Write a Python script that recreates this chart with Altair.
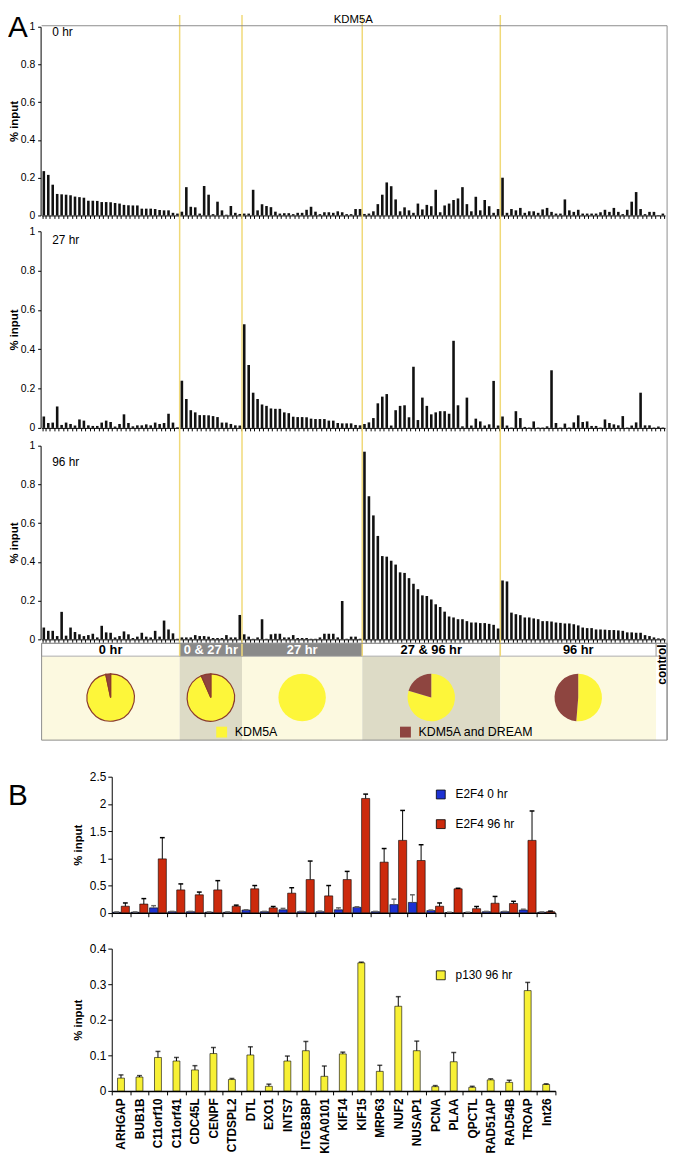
import math
import altair as alt
import pandas as pd

W, H = 672, 1155
FONT = "Liberation Sans"
NARROW = "Liberation Sans Narrow, Liberation Sans"

# ---------------- data: panel A (KDM5A ChIP, % input) ----------------
group_names = ["0 hr", "0 & 27 hr", "27 hr", "27 & 96 hr", "96 hr", "control"]
group_sizes = [31, 14, 27, 31, 35, 2]

kdm5a_0hr = (
    [0.235, 0.215, 0.163, 0.114, 0.112, 0.11, 0.107, 0.1, 0.097, 0.094, 0.078, 0.078, 0.077, 0.071, 0.071, 0.07,
     0.066, 0.063, 0.056, 0.054, 0.053, 0.053, 0.036, 0.036, 0.036, 0.034, 0.029, 0.027, 0.027, 0.014, 0.01]
    + [0.02, 0.15, 0.046, 0.043, 0.01, 0.156, 0.11, 0.007, 0.073, 0.027, 0.004, 0.05, 0.014, 0.008]
    + [0.01, 0.01, 0.136, 0.027, 0.06, 0.05, 0.044, 0.02, 0.01, 0.012, 0.012, 0.007, 0.014, 0.014, 0.03, 0.046,
       0.02, 0.007, 0.017, 0.017, 0.014, 0.022, 0.017, 0.007, 0.007, 0.034, 0.034]
    + [0.008, 0.01, 0.022, 0.06, 0.11, 0.175, 0.155, 0.085, 0.022, 0.043, 0.027, 0.014, 0.063, 0.032, 0.056, 0.049,
       0.136, 0.017, 0.053, 0.063, 0.082, 0.09, 0.15, 0.06, 0.022, 0.099, 0.027, 0.082, 0.049, 0.014, 0.034]
    + [0.2, 0.014, 0.034, 0.027, 0.04, 0.014, 0.022, 0.022, 0.014, 0.032, 0.04, 0.019, 0.01, 0.01, 0.085, 0.027,
       0.019, 0.03, 0.01, 0.01, 0.01, 0.01, 0.017, 0.03, 0.019, 0.04, 0.019, 0.007, 0.03, 0.073, 0.124, 0.034,
       0.007, 0.019, 0.019, 0.002, 0.01]
)
kdm5a_27hr = (
    [0.058, 0.025, 0.027, 0.109, 0.015, 0.027, 0.02, 0.012, 0.043, 0.037, 0.013, 0.01, 0.01, 0.027, 0.037, 0.03,
     0.007, 0.02, 0.069, 0.025, 0.008, 0.013, 0.013, 0.018, 0.013, 0.027, 0.02, 0.025, 0.072, 0.027, 0.003]
    + [0.24, 0.147, 0.09, 0.079, 0.065, 0.065, 0.064, 0.06, 0.055, 0.027, 0.027, 0.02, 0.013, 0.012]
    + [0.527, 0.32, 0.179, 0.147, 0.119, 0.112, 0.099, 0.097, 0.097, 0.079, 0.075, 0.057, 0.055, 0.055, 0.054,
       0.047, 0.045, 0.045, 0.045, 0.037, 0.037, 0.025, 0.023, 0.023, 0.023, 0.015, 0.013]
    + [0.02, 0.028, 0.05, 0.125, 0.159, 0.172, 0.012, 0.09, 0.112, 0.115, 0.054, 0.311, 0.04, 0.154, 0.112, 0.069,
       0.079, 0.085, 0.085, 0.072, 0.443, 0.115, 0.008, 0.154, 0.012, 0.047, 0.033, 0.012, 0.018, 0.239, 0.012]
    + [0.058, 0.012, 0.002, 0.085, 0.05, 0.005, 0.002, 0.033, 0.002, 0.002, 0.008, 0.293, 0.025, 0.002, 0.022,
       0.002, 0.028, 0.064, 0.03, 0.033, 0.01, 0.01, 0.002, 0.043, 0.025, 0.018, 0.013, 0.06, 0.002, 0.012, 0.028,
       0.179, 0.013, 0.013, 0.002, 0.007, 0.002]
)
kdm5a_96hr = (
    [0.061, 0.044, 0.044, 0.017, 0.142, 0.019, 0.061, 0.038, 0.026, 0.017, 0.022, 0.029, 0.01, 0.07, 0.036, 0.034,
     0.01, 0.017, 0.041, 0.026, 0.007, 0.014, 0.034, 0.014, 0.01, 0.044, 0.014, 0.097, 0.051, 0.031, 0.003]
    + [0.01, 0.01, 0.01, 0.022, 0.017, 0.017, 0.014, 0.007, 0.007, 0.007, 0.022, 0.01, 0.01, 0.126]
    + [0.026, 0.014, 0.003, 0.01, 0.104, 0.003, 0.026, 0.029, 0.029, 0.01, 0.01, 0.022, 0.007, 0.007, 0.007, 0.003,
       0.003, 0.01, 0.029, 0.029, 0.029, 0.01, 0.198, 0.003, 0.014, 0.014, 0.003]
    + [0.969, 0.739, 0.64, 0.534, 0.43, 0.427, 0.406, 0.386, 0.346, 0.343, 0.316, 0.287, 0.259, 0.227, 0.224, 0.206,
       0.181, 0.167, 0.143, 0.118, 0.113, 0.104, 0.104, 0.094, 0.087, 0.087, 0.084, 0.084, 0.08, 0.075, 0.056]
    + [0.304, 0.299, 0.138, 0.13, 0.125, 0.113, 0.113, 0.108, 0.104, 0.094, 0.094, 0.092, 0.087, 0.085, 0.082,
       0.082, 0.078, 0.072, 0.061, 0.058, 0.058, 0.051, 0.051, 0.05, 0.048, 0.048, 0.046, 0.044, 0.036, 0.036,
       0.034, 0.034, 0.022, 0.017, 0.01, 0.005, 0.005]
)

pie_groups = ["0 hr", "0 & 27 hr", "27 hr", "27 & 96 hr", "96 hr"]
pie_dream_fraction = [0.033, 0.066, 0.0, 0.204, 0.487]
pie_outlined = [True, True, False, False, False]
pie_types = ["KDM5A", "KDM5A and DREAM"]

# ---------------- data: panel B ----------------
genes = ["ARHGAP", "BUB1B", "C11orf10", "C11orf41", "CDC45L", "CENPF", "CTDSPL2", "DTL", "EXO1", "INTS7",
         "ITGB3BP", "KIAA0101", "KIF14", "KIF15", "MRP63", "NUF2", "NUSAP1", "PCNA", "PLAA", "QPCTL",
         "RAD51AP", "RAD54B", "TROAP", "Int26"]
e2f4_0hr = [0.01, 0.01, 0.09, 0.02, 0.02, 0.01, 0.01, 0.05, 0.02, 0.055, 0.02, 0.02, 0.055, 0.1, 0.02, 0.15,
            0.19, 0.04, 0.005, 0.005, 0.02, 0.02, 0.05, 0.01]
e2f4_0hr_err = [0.015, 0.015, 0.13, 0.025, 0.025, 0.015, 0.015, 0.055, 0.025, 0.08, 0.025, 0.03, 0.09, 0.11,
                0.025, 0.25, 0.33, 0.05, 0.01, 0.01, 0.025, 0.025, 0.065, 0.015]
e2f4_96hr = [0.12, 0.16, 0.99, 0.42, 0.33, 0.42, 0.12, 0.44, 0.09, 0.36, 0.61, 0.31, 0.61, 2.1, 0.93, 1.33,
             0.96, 0.12, 0.44, 0.075, 0.175, 0.17, 1.33, 0.02]
e2f4_96hr_err = [0.18, 0.26, 1.38, 0.53, 0.38, 0.59, 0.14, 0.5, 0.115, 0.46, 0.95, 0.5, 0.76, 2.18, 1.18, 1.88,
                 1.25, 0.18, 0.45, 0.115, 0.3, 0.21, 1.87, 0.03]
p130_96hr = [0.036, 0.039, 0.094, 0.084, 0.059, 0.105, 0.032, 0.101, 0.013, 0.084, 0.113, 0.041, 0.104, 0.36,
             0.055, 0.238, 0.113, 0.012, 0.082, 0.01, 0.031, 0.024, 0.282, 0.018]
p130_96hr_err = [0.045, 0.043, 0.111, 0.094, 0.071, 0.122, 0.035, 0.124, 0.019, 0.098, 0.139, 0.07, 0.109,
                 0.362, 0.072, 0.265, 0.14, 0.015, 0.108, 0.013, 0.034, 0.03, 0.305, 0.02]

# ---------------- layout / style ----------------
N = sum(group_sizes)
X0, X1 = 34, 665
FRAME_R = N + 0.45
A_AXIS_X = 33
panels = [("0 hr", kdm5a_0hr, 203, 12, 0.95), ("27 hr", kdm5a_27hr, 418, 219, 0.935),
          ("96 hr", kdm5a_96hr, 632, 436, 0.893)]
BOX_BOTTOM, STRIP_TOP, STRIP_BOTTOM = 734, 636, 649
STRIP_FRAC = (BOX_BOTTOM - STRIP_BOTTOM) / (BOX_BOTTOM - STRIP_TOP)
B_X0, B_X1 = 105, 554
BT_Y0, BT_Y1 = 908.7, 771
BB_Y0, BB_Y1 = 1089, 945

bg_fill = {"0 hr": "#fcf9e0", "0 & 27 hr": "#dddbc6", "27 hr": "#fcf9e0", "27 & 96 hr": "#dddbc6",
           "96 hr": "#fcf9e0", "control": "#ffffff"}
strip_fill = {"0 hr": "#ffffff", "0 & 27 hr": "#8a8a8a", "27 hr": "#8a8a8a", "27 & 96 hr": "#ffffff",
              "96 hr": "#ffffff", "control": "#ffffff"}
strip_text = {"0 hr": "#000000", "0 & 27 hr": "#ffffff", "27 hr": "#ffffff", "27 & 96 hr": "#000000",
              "96 hr": "#000000", "control": "#000000"}
YELLOW_LINE = "#f0d978"
PIE_COLORS = ["#fdf63a", "#8e4540"]


def pos():
    return alt.Scale(domain=[0, N], range=[X0, X1], nice=False, zero=False)


units = []

# ---------------- strip and pie box ----------------
starts = [sum(group_sizes[:i]) for i in range(len(group_sizes))]
ends = starts[1:] + [FRAME_R]
strip_df = pd.DataFrame({
    "group": group_names, "start": starts, "end": ends,
    "mid": [(a + b) / 2 for a, b in zip(starts, ends)],
    "bg": [bg_fill[g] for g in group_names], "sf": [strip_fill[g] for g in group_names],
    "tc": [strip_text[g] for g in group_names],
    "lo": [0.0] * len(group_names), "sb": [STRIP_FRAC] * len(group_names), "hi": [1.0] * len(group_names),
    "ty": [(STRIP_FRAC + 1) / 2] * len(group_names),
})
box_y = alt.Scale(domain=[0, 1], range=[BOX_BOTTOM, STRIP_TOP], nice=False, zero=False)

units.append(alt.Chart(strip_df).mark_rect(strokeWidth=0).encode(
    x=alt.X("start:Q", scale=pos(), axis=None), x2="end:Q",
    y=alt.Y("lo:Q", scale=box_y, axis=None), y2="sb:Q",
    color=alt.Color("bg:N", scale=None)))
units.append(alt.Chart(strip_df).mark_rect(stroke="#9a9a9a", strokeWidth=0.8).encode(
    x=alt.X("start:Q", scale=pos(), axis=None), x2="end:Q",
    y=alt.Y("sb:Q", scale=box_y, axis=None), y2="hi:Q",
    color=alt.Color("sf:N", scale=None)))

# yellow separators
line_df = pd.DataFrame({"b": starts[1:5], "y": [0.0] * 4, "y2": [1.0] * 4})
units.append(alt.Chart(line_df).mark_rule(color=YELLOW_LINE, strokeWidth=1.5).encode(
    x=alt.X("b:Q", scale=pos(), axis=None),
    y=alt.Y("y:Q", scale=alt.Scale(domain=[0, 1], range=[STRIP_BOTTOM, 0], nice=False, zero=False), axis=None),
    y2="y2:Q"))

units.append(alt.Chart(strip_df[strip_df.group != "control"]).mark_text(
    font=NARROW, fontSize=13, fontWeight="bold", baseline="middle", align="center").encode(
    x=alt.X("mid:Q", scale=pos(), axis=None), y=alt.Y("ty:Q", scale=box_y, axis=None),
    text="group:N", color=alt.Color("tc:N", scale=None)))
units.append(alt.Chart(strip_df[strip_df.group == "control"].assign(cy=0.78)).mark_text(
    font=FONT, fontSize=12, fontWeight="bold", angle=270, baseline="middle", align="center", color="black").encode(
    x=alt.X("mid:Q", scale=pos(), axis=None), y=alt.Y("cy:Q", scale=box_y, axis=None), text="group:N"))

# pies
pie_rows = []
for g, f, outl in zip(pie_groups, pie_dream_fraction, pie_outlined):
    mid = float(strip_df.loc[strip_df.group == g, "mid"].iloc[0])
    if f < 1:
        pie_rows.append({"group": g, "type": pie_types[0], "t0": 0.0, "t1": 1 - f, "cx": mid, "cy": 0.44,
                         "outline": outl})
    if f > 0:
        pie_rows.append({"group": g, "type": pie_types[1], "t0": 1 - f, "t1": 1.0, "cx": mid, "cy": 0.44,
                         "outline": outl})
units.append(alt.Chart(pd.DataFrame(pie_rows)).mark_arc(outerRadius=24, stroke="#8b3b2e").encode(
    x=alt.X("cx:Q", scale=pos(), axis=None), y=alt.Y("cy:Q", scale=box_y, axis=None),
    theta=alt.Theta("t0:Q", scale=alt.Scale(domain=[0, 1], range=[0, 2 * math.pi]), stack=False),
    theta2="t1:Q",
    color=alt.Color("type:N", scale=alt.Scale(domain=pie_types, range=PIE_COLORS),
                    legend=alt.Legend(title=None, orient="none", legendX=210, legendY=719.5,
                                      direction="horizontal", columns=2, columnPadding=123,
                                      symbolType="square", symbolSize=121, symbolStrokeWidth=0,
                                      labelFontSize=12.5, labelOffset=7, padding=0, labelFont=FONT)),
    strokeWidth=alt.condition("datum.outline", alt.value(1.2), alt.value(0))))

# ---------------- bar panels ----------------
bar_idx = list(range(N))
bar_group = [g for g, s in zip(group_names, group_sizes) for _ in range(s)]
for name, vals, y0, y1, ly in panels:
    assert len(vals) == N, (name, len(vals))
    ysc = alt.Scale(domain=[0, 1], range=[y0, y1], nice=False, zero=False)
    df = pd.DataFrame({"bar": bar_idx, "value": vals, "group": bar_group})
    units.append(alt.Chart(df).mark_bar(color="#111111").encode(
        x=alt.X("bar:O", scale=alt.Scale(domain=bar_idx, range=[X0, X1], paddingInner=0.42, paddingOuter=0.21),
                axis=alt.Axis(orient="bottom", offset=y0 - H, labels=False, title=None, tickBand="extent",
                              tickSize=3, tickColor="black", domainColor="black", domainWidth=1, grid=False)),
        y=alt.Y("value:Q", scale=ysc,
                axis=alt.Axis(orient="left", offset=-A_AXIS_X, values=[0, 0.2, 0.4, 0.6, 0.8, 1], format="~g",
                              title="% input", titleFontWeight="bold", titleFontSize=11.5, titlePadding=1,
                              titleColor="black", labelFontSize=10.5, labelPadding=3, labelColor="black",
                              tickSize=3, tickColor="black", domainColor="black", grid=False))))
    units.append(alt.Chart(pd.DataFrame({"t": [name], "x": [2.4], "y": [ly]})).mark_text(
        align="left", baseline="alphabetic", fontSize=12, font=FONT, color="black").encode(
        x=alt.X("x:Q", scale=pos(), axis=None), y=alt.Y("y:Q", scale=ysc, axis=None), text="t:N"))

# frame of panel A
frame_y = alt.Scale(domain=[0, 1], range=[BOX_BOTTOM, 11], nice=False, zero=False)
frame_df = pd.DataFrame({"x": [0, FRAME_R], "x2": [FRAME_R, FRAME_R], "y": [1, 0], "y2": [1, 1]})
units.append(alt.Chart(frame_df).mark_rule(color="#8c8c8c", strokeWidth=1).encode(
    x=alt.X("x:Q", scale=pos(), axis=None), x2="x2:Q", y=alt.Y("y:Q", scale=frame_y, axis=None), y2="y2:Q"))
units.append(alt.Chart(pd.DataFrame({"x": [0], "x2": [FRAME_R], "y": [0], "y2": [1]})).mark_rect(
    fillOpacity=0, stroke="#8c8c8c", strokeWidth=1).encode(
    x=alt.X("x:Q", scale=pos(), axis=None), x2="x2:Q", y=alt.Y("y:Q", scale=box_y, axis=None), y2="y2:Q"))
units.append(alt.Chart(pd.DataFrame({"t": ["KDM5A"], "x": [N / 2], "y": [1]})).mark_text(
    baseline="bottom", dy=-1, fontSize=11.5, font=FONT, color="black").encode(
    x=alt.X("x:Q", scale=pos(), axis=None), y=alt.Y("y:Q", scale=frame_y, axis=None), text="t:N"))

# panel letters
units.append(alt.Chart(pd.DataFrame({"t": ["A"]})).mark_text(
    align="left", baseline="alphabetic", fontSize=30, font=FONT, color="black").encode(
    x=alt.value(0), y=alt.value(22.5), text="t:N"))
units.append(alt.Chart(pd.DataFrame({"t": ["B"]})).mark_text(
    align="left", baseline="alphabetic", fontSize=30, font=FONT, color="black").encode(
    x=alt.value(0), y=alt.value(800), text="t:N"))

# ---------------- panel B top: E2F4 ----------------
bt_rows = []
for i, g in enumerate(genes):
    for series, vals, errs, shift in [("E2F4 0 hr", e2f4_0hr, e2f4_0hr_err, -0.235),
                                      ("E2F4 96 hr", e2f4_96hr, e2f4_96hr_err, 0.235)]:
        xc = i + 0.5 + shift
        bt_rows.append({"gene": g, "series": series, "value": vals[i], "err": errs[i], "base": 0.0,
                        "xc": xc, "left": xc - 0.22, "right": xc + 0.22, "capl": xc - 0.13, "capr": xc + 0.13})
bt_df = pd.DataFrame(bt_rows)


def bt_x():
    return alt.Scale(domain=[0, len(genes)], range=[B_X0, B_X1], nice=False, zero=False)


def bt_y():
    return alt.Scale(domain=[0, 2.5], range=[BT_Y0, BT_Y1], nice=False, zero=False)


def b_yaxis(values):
    return alt.Axis(orient="left", offset=-B_X0, values=values, format="~g", title="% input",
                    titleFontWeight="bold", titleFontSize=11.5, titlePadding=6, titleColor="black",
                    labelFontSize=12, labelPadding=2, labelColor="black", tickSize=4, tickColor="black",
                    domainColor="black", grid=False)


def b_legend(y):
    return alt.Legend(title=None, orient="none", legendX=432, legendY=y, direction="vertical",
                      symbolType="square", symbolSize=81, symbolStrokeColor="black", symbolStrokeWidth=0.8,
                      labelFontSize=12, labelOffset=9, rowPadding=16, padding=0, labelFont=FONT)


units.append(alt.Chart(bt_df).mark_bar(stroke="black", strokeWidth=0.6).encode(
    x=alt.X("left:Q", scale=bt_x(),
            axis=alt.Axis(orient="bottom", offset=BT_Y0 - H, values=list(range(len(genes) + 1)), labels=False,
                          title=None, tickSize=4, tickColor="black", domainColor="black", domainWidth=1.5,
                          grid=False)),
    x2="right:Q",
    y=alt.Y("value:Q", scale=bt_y(), axis=b_yaxis([0, 0.5, 1, 1.5, 2, 2.5])), y2="base:Q",
    color=alt.Color("series:N", scale=alt.Scale(domain=["E2F4 0 hr", "E2F4 96 hr"], range=["#1d31d2", "#cc2a0d"]),
                    legend=b_legend(783))))
err_color = alt.condition("datum.series == 'E2F4 0 hr'", alt.value("#666666"), alt.value("black"))
units.append(alt.Chart(bt_df).mark_rule(strokeWidth=1).encode(
    x=alt.X("xc:Q", scale=bt_x(), axis=None), y=alt.Y("value:Q", scale=bt_y(), axis=None), y2="err:Q",
    color=err_color))
units.append(alt.Chart(bt_df).mark_rule(strokeWidth=1.5).encode(
    x=alt.X("capl:Q", scale=bt_x(), axis=None), x2="capr:Q", y=alt.Y("err:Q", scale=bt_y(), axis=None),
    color=err_color))

# ---------------- panel B bottom: p130 ----------------
bb_df = pd.DataFrame({"gene": genes, "value": p130_96hr, "err": p130_96hr_err,
                      "series": ["p130 96 hr"] * len(genes)})


def bb_x():
    return alt.Scale(domain=genes, range=[B_X0, B_X1], paddingInner=0, paddingOuter=0)


def bb_y():
    return alt.Scale(domain=[0, 0.4], range=[BB_Y0, BB_Y1], nice=False, zero=False)


units.append(alt.Chart(bb_df).mark_bar(size=7, stroke="black", strokeWidth=0.6).encode(
    x=alt.X("gene:N", scale=bb_x(),
            axis=alt.Axis(orient="bottom", offset=BB_Y0 - H, labelAngle=-90, title=None, labelFontSize=12,
                          labelFontWeight="bold", labelColor="black", labelPadding=3, tickSize=4,
                          tickColor="black", tickBand="extent", domainColor="black", domainWidth=1.5,
                          grid=False, labelFont=FONT)),
    y=alt.Y("value:Q", scale=bb_y(), axis=b_yaxis([0, 0.1, 0.2, 0.3, 0.4])),
    color=alt.Color("series:N", scale=alt.Scale(domain=["p130 96 hr"], range=["#f7f035"]),
                    legend=b_legend(966))))
units.append(alt.Chart(bb_df).mark_rule(strokeWidth=1, color="black").encode(
    x=alt.X("gene:N", scale=bb_x(), axis=None), y=alt.Y("value:Q", scale=bb_y(), axis=None), y2="err:Q"))
units.append(alt.Chart(bb_df).mark_tick(size=5, thickness=1.5, color="black").encode(
    x=alt.X("gene:N", scale=bb_x(), axis=None), y=alt.Y("err:Q", scale=bb_y(), axis=None)))

chart = (
    alt.layer(*units)
    .resolve_scale(x="independent", y="independent", color="independent")
    .properties(width=W, height=H, autosize=alt.AutoSizeParams(type="none"), padding=0)
    .configure(font=FONT)
    .configure_view(strokeWidth=0)
    .configure_axis(labelFont=FONT, titleFont=FONT)
)

chart.save("out.html", embed_options={"renderer": "svg", "actions": False})
